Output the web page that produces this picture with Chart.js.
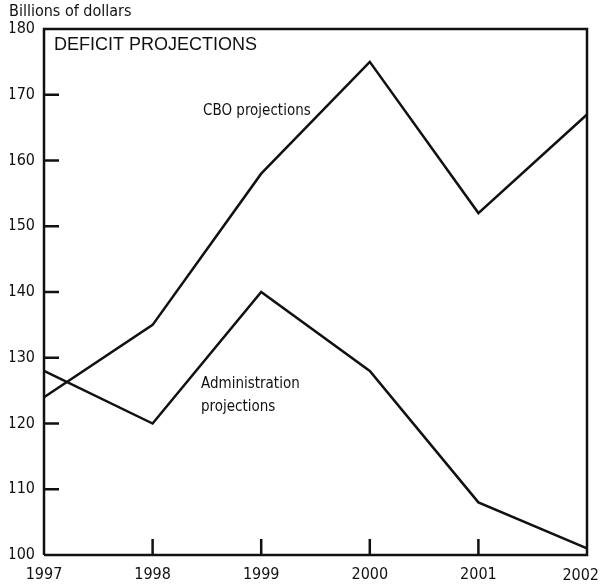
<!DOCTYPE html>
<html>
<head>
<meta charset="utf-8">
<script src="https://cdn.jsdelivr.net/npm/chart.js@4/dist/chart.umd.min.js"></script>
<style>
  html, body { margin: 0; padding: 0; background: #fff; }
  #wrap { width: 602px; height: 584px; }
</style>
</head>
<body>
<div id="wrap"><canvas id="myChart"></canvas></div>
<script>
var years = ["1997", "1998", "1999", "2000", "2001", "2002"];
var cboValues = [124, 135, 158, 175, 152, 167];
var adminValues = [128, 120, 140, 128, 108, 101];
var yMin = 100, yMax = 180, yStep = 10;

var narrow = "'Liberation Sans Narrow', 'DejaVu Sans Condensed', sans-serif";
var last = years.length - 1;

// inward ticks, box and text labels
var decor = {
  id: "decor",
  afterDatasetsDraw: function (chart) {
    var c = chart.ctx, a = chart.chartArea;
    var xs = chart.scales.x, ys = chart.scales.y;
    c.save();
    c.strokeStyle = "#111";
    c.lineWidth = 2.5;
    c.beginPath();
    c.moveTo(a.left, a.bottom);
    c.lineTo(a.left, a.top);
    c.lineTo(a.right, a.top);
    c.lineTo(a.right, a.bottom);
    c.lineTo(a.left, a.bottom);
    c.stroke();
    c.beginPath();
    ys.ticks.forEach(function (t) {
      if (t.value <= yMin || t.value >= yMax) return;
      var y = ys.getPixelForValue(t.value);
      c.moveTo(a.left, y);
      c.lineTo(a.left + 15, y);
    });
    for (var i = 1; i < last; i++) {
      var x = xs.getPixelForValue(i);
      c.moveTo(x, a.bottom);
      c.lineTo(x, a.bottom - 16);
    }
    c.stroke();

    c.fillStyle = "#111";
    // last year label sits inside the canvas edge
    c.textBaseline = "top";
    c.textAlign = "right";
    c.font = "16px " + narrow;
    c.fillText(years[last], chart.width - 3, a.bottom + 13);
    c.textBaseline = "middle";
    c.textAlign = "left";
    c.fillText("Billions of dollars", 9, 12);
    c.font = "18px 'Liberation Sans', Arial, sans-serif";
    c.fillText("DEFICIT PROJECTIONS", 54, 45);
    c.font = "15px " + narrow;
    c.fillText("CBO projections", 203, 111);
    c.fillText("Administration", 201, 384);
    c.fillText("projections", 201, 407);
    c.restore();
  }
};

new Chart(document.getElementById("myChart").getContext("2d"), {
  type: "line",
  data: {
    labels: years,
    datasets: [
      {
        label: "CBO projections",
        data: cboValues,
        borderColor: "#111",
        borderWidth: 2.5,
        pointRadius: 0,
        tension: 0,
        fill: false
      },
      {
        label: "Administration projections",
        data: adminValues,
        borderColor: "#111",
        borderWidth: 2.5,
        pointRadius: 0,
        tension: 0,
        fill: false
      }
    ]
  },
  options: {
    responsive: true,
    maintainAspectRatio: false,
    animation: false,
    layout: { padding: { top: 29, left: 10, right: 15, bottom: 0 } },
    plugins: { legend: { display: false }, tooltip: { enabled: false } },
    scales: {
      x: {
        offset: false,
        border: { display: false },
        grid: { display: false, drawTicks: false },
        ticks: {
          color: function (ctx) { return ctx.index === last ? "rgba(0,0,0,0)" : "#111"; },
          padding: 10,
          maxRotation: 0,
          autoSkip: false,
          font: { family: narrow, size: 16 }
        },
        afterFit: function (s) {
          s.height = 29;
          s.paddingLeft = 0;
          s.paddingRight = 0;
        }
      },
      y: {
        min: yMin,
        max: yMax,
        border: { display: false },
        grid: { display: false, drawTicks: false },
        ticks: {
          stepSize: yStep,
          color: "#111",
          padding: 9,
          font: { family: narrow, size: 16 }
        },
        afterFit: function (s) {
          s.width = 34;
          s.paddingTop = 0;
          s.paddingBottom = 0;
        }
      }
    }
  },
  plugins: [decor]
});
</script>
</body>
</html>
